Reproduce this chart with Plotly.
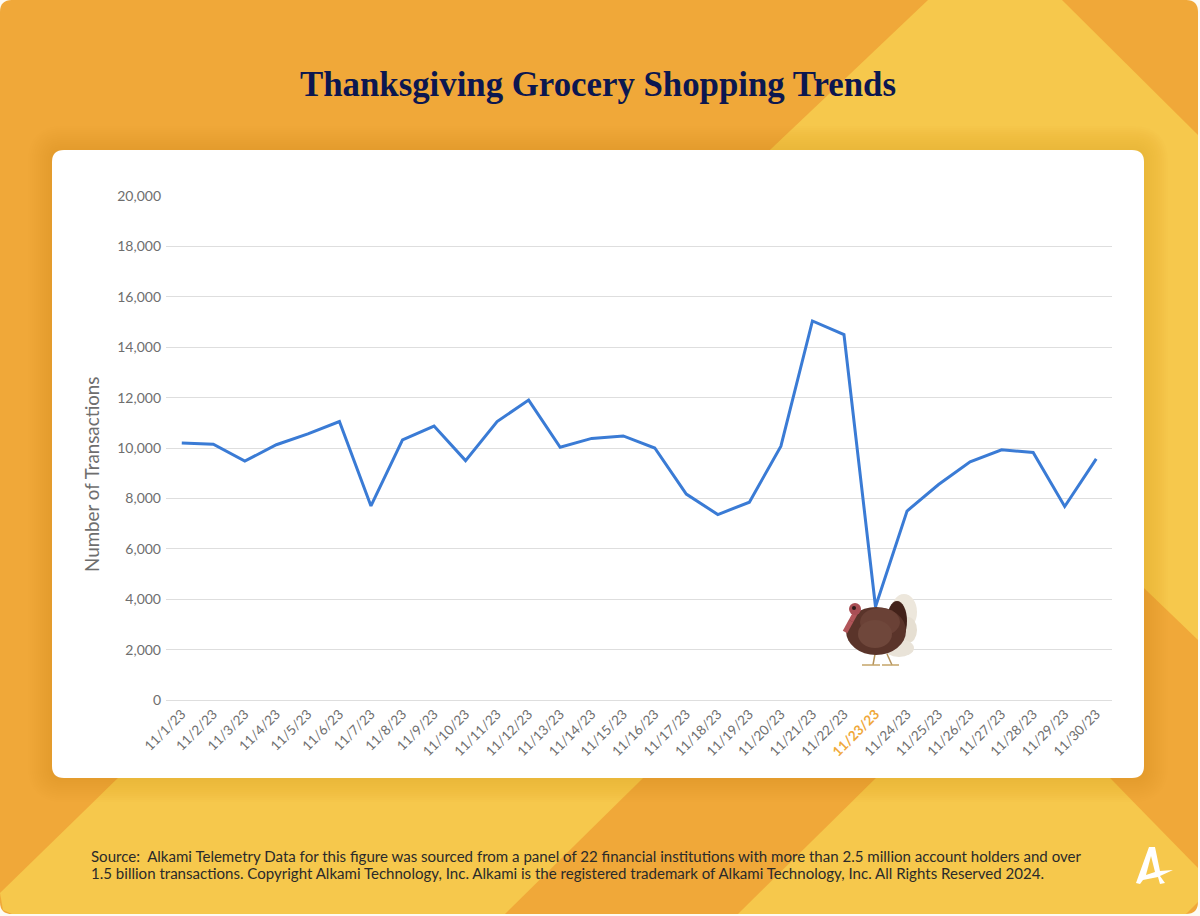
"""Thanksgiving grocery shopping trends: line chart on the branded orange card."""

import plotly.graph_objects as go

# --- data ---

DATES = [f"11/{d}/23" for d in range(1, 31)]
TRANSACTIONS = [
    10200, 10150, 9480, 10130, 10560, 11050, 7700, 10320, 10870, 9500,
    11050, 11900, 10030, 10380, 10480, 10000, 8170, 7360, 7850, 10070,
    15040, 14500, 3700, 7500, 8550, 9450, 9930, 9820, 7680, 9570,
]
Y_TICKS = [0, 2000, 4000, 6000, 8000, 10000, 12000, 14000, 16000, 18000, 20000]
HIGHLIGHT_DATE = "11/23/23"

TITLE = "Thanksgiving Grocery Shopping Trends"
Y_TITLE = "Number of Transactions"
SOURCE_LINES = [
    "Source:  Alkami Telemetry Data for this figure was sourced from a panel of 22 "
    "financial institutions with more than 2.5 million account holders and over",
    "1.5 billion transactions. Copyright Alkami Technology, Inc. Alkami is the "
    "registered trademark of Alkami Technology, Inc. All Rights Reserved 2024.",
]

# --- styles / layout ---

ORANGE = "#F0A839"
YELLOW = "#F6C84C"
NAVY = "#0C1750"
LINE_BLUE = "#3A7BD5"
GRID = "#DEDEDE"
TICK_GREY = "#6E6E6E"

WIDTH = 1200
HEIGHT = 916
PLOT_LEFT = 166
PLOT_RIGHT = 1112
PLOT_TOP = 196
PLOT_BOTTOM = 700


def px_x(x):
    """Picture pixel to paper x (paper is relative to the plot area)."""
    return (x - PLOT_LEFT) / (PLOT_RIGHT - PLOT_LEFT)


def px_y(y):
    return (PLOT_BOTTOM - y) / (PLOT_BOTTOM - PLOT_TOP)


def polygon(points, color, layer="below", opacity=1.0):
    path = "M " + " L ".join(f"{px_x(x):.5f},{px_y(y):.5f}" for x, y in points) + " Z"
    return dict(type="path", xref="paper", yref="paper", path=path, fillcolor=color,
                line=dict(width=0), layer=layer, opacity=opacity)


def rounded_rect(x0, y0, x1, y1, r, color, layer="below", opacity=1.0):
    p = [
        f"M {px_x(x0 + r):.5f},{px_y(y0):.5f}",
        f"L {px_x(x1 - r):.5f},{px_y(y0):.5f}",
        f"Q {px_x(x1):.5f},{px_y(y0):.5f} {px_x(x1):.5f},{px_y(y0 + r):.5f}",
        f"L {px_x(x1):.5f},{px_y(y1 - r):.5f}",
        f"Q {px_x(x1):.5f},{px_y(y1):.5f} {px_x(x1 - r):.5f},{px_y(y1):.5f}",
        f"L {px_x(x0 + r):.5f},{px_y(y1):.5f}",
        f"Q {px_x(x0):.5f},{px_y(y1):.5f} {px_x(x0):.5f},{px_y(y1 - r):.5f}",
        f"L {px_x(x0):.5f},{px_y(y0 + r):.5f}",
        f"Q {px_x(x0):.5f},{px_y(y0):.5f} {px_x(x0 + r):.5f},{px_y(y0):.5f}",
        "Z",
    ]
    return dict(type="path", xref="paper", yref="paper", path=" ".join(p), fillcolor=color,
                line=dict(width=0), layer=layer, opacity=opacity)


def ellipse(cx, cy, rx, ry, color):
    return dict(type="circle", xref="paper", yref="paper", x0=px_x(cx - rx), x1=px_x(cx + rx),
                y0=px_y(cy + ry), y1=px_y(cy - ry), fillcolor=color, line=dict(width=0),
                layer="above")


def segment(x0, y0, x1, y1, color, width):
    return dict(type="line", xref="paper", yref="paper", x0=px_x(x0), x1=px_x(x1),
                y0=px_y(y0), y1=px_y(y1), line=dict(color=color, width=width), layer="above")


def background_shapes():
    shapes = [rounded_rect(0, 0, 1198, 914, 12, ORANGE)]
    # yellow diagonal bands
    shapes.append(polygon([(928, 0), (1062, 0), (1198, 135), (1198, 640), (1144, 588), (770, 150)], YELLOW))
    shapes.append(polygon([(118, 778), (643, 778), (505, 914), (12, 914), (3, 910), (0, 893)], YELLOW))
    shapes.append(polygon([(876, 778), (1110, 778), (1198, 868), (1198, 902), (1186, 914), (738, 914)], YELLOW))
    # soft shadow round the card
    for grow in range(2, 26, 2):
        shapes.append(rounded_rect(52 - grow, 150 - grow, 1144 + grow, 778 + grow, 12 + grow,
                                   "#A8741E", opacity=0.014))
    shapes.append(rounded_rect(52, 150, 1144, 778, 12, "#FFFFFF"))
    # logo
    shapes.append(polygon([(1136, 883), (1149, 847), (1155, 847), (1160, 871), (1173, 870),
                           (1160, 876), (1165, 883), (1160, 884), (1158, 877), (1143, 880),
                           (1140, 884)], "#FFFFFF"))
    shapes.append(polygon([(1151, 856), (1155, 872), (1146, 875)], YELLOW))
    return shapes


def turkey_shapes():
    return [
        # tail fan
        ellipse(904, 612, 13, 18, "#EDE7DC"),
        ellipse(908, 630, 9, 13, "#E6DFD2"),
        ellipse(899, 648, 15, 9, "#E9E3D8"),
        # legs
        segment(875, 654, 873, 665, "#B4925A", 1.5),
        segment(887, 654, 892, 665, "#B4925A", 1.5),
        segment(862, 665, 880, 665, "#C4A468", 1.5),
        segment(882, 665, 899, 665, "#C4A468", 1.5),
        # body
        ellipse(897, 621, 10, 20, "#43221A"),
        ellipse(876, 631, 30, 24, "#5A342A"),
        ellipse(880, 622, 20, 14, "#6A4136"),
        ellipse(875, 634, 17, 14, "#6F473B"),
        # neck and head
        segment(856, 612, 851, 621, "#B2565A", 5),
        segment(851, 621, 845, 632, "#B2565A", 5),
        ellipse(855, 609, 6, 6, "#A94F55"),
        ellipse(854, 608, 2, 2, "#2B1A1A"),
    ]


tick_text = [
    f'<span style="color:{ORANGE}"><b>{d}</b></span>' if d == HIGHLIGHT_DATE else d
    for d in DATES
]

fig = go.Figure(
    go.Scatter(
        x=DATES,
        y=TRANSACTIONS,
        mode="lines",
        line=dict(color=LINE_BLUE, width=3),
        hoverinfo="x+y",
    )
)

annotations = [
    dict(text=f"<b>{TITLE}</b>", xref="paper", yref="paper", x=px_x(598), y=px_y(85),
         xanchor="center", yanchor="middle", showarrow=False,
         font=dict(family="Liberation Serif, serif", size=34.8, color=NAVY)),
    dict(text=Y_TITLE, xref="paper", yref="paper", x=px_x(91), y=px_y(475),
         xanchor="center", yanchor="middle", textangle=-90, showarrow=False,
         font=dict(family="Lato, sans-serif", size=18.8, color=TICK_GREY)),
]
for line, line_y in zip(SOURCE_LINES, (856, 873)):
    annotations.append(
        dict(text=line, xref="paper", yref="paper", x=px_x(89), y=px_y(line_y),
             xanchor="left", yanchor="middle", align="left", showarrow=False,
             font=dict(family="Lato, sans-serif", size=15.05, color="#2A2A2A"))
    )

fig.update_layout(
    width=WIDTH,
    height=HEIGHT,
    margin=dict(l=PLOT_LEFT, r=WIDTH - PLOT_RIGHT, t=PLOT_TOP, b=HEIGHT - PLOT_BOTTOM, pad=0),
    paper_bgcolor="#FDFBF4",
    plot_bgcolor="rgba(0,0,0,0)",
    showlegend=False,
    font=dict(family="Lato, sans-serif", color=TICK_GREY),
    shapes=background_shapes() + turkey_shapes(),
    annotations=annotations,
)

fig.update_xaxes(
    type="category",
    categoryorder="array",
    categoryarray=DATES,
    range=[-0.5, len(DATES) - 0.5],
    tickmode="array",
    tickvals=DATES,
    ticktext=tick_text,
    tickangle=-45,
    tickfont=dict(size=13.5, color=TICK_GREY),
    showgrid=False,
    showline=True,
    linecolor=GRID,
    linewidth=1,
    ticks="",
)

fig.update_yaxes(
    range=[0, 20000],
    tickmode="array",
    tickvals=Y_TICKS,
    tickformat=",d",
    tickfont=dict(size=14, color=TICK_GREY),
    ticklabelstandoff=4,
    gridcolor=GRID,
    gridwidth=1,
    zeroline=False,
    ticks="",
)

# the page's default body margin would shift the picture by 8px
fig.write_html(
    "out.html",
    config={"displayModeBar": False},
    post_script="document.body.style.margin='0';",
)
